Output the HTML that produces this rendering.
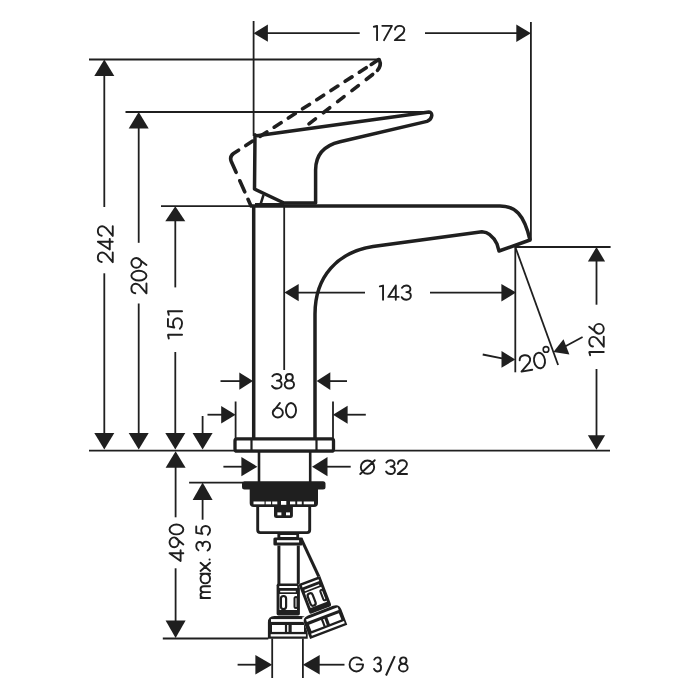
<!DOCTYPE html>
<html><head><meta charset="utf-8"><style>
html,body{margin:0;padding:0;background:#fff;width:700px;height:700px;overflow:hidden;font-family:"Liberation Sans",sans-serif}
svg{display:block}
.f{fill:#1f1f1f;stroke:none}
</style></head><body>
<svg width="700" height="700" viewBox="0 0 700 700" stroke="#1f1f1f" fill="none" stroke-linecap="butt">
<path transform="translate(389.15,33.00) scale(0.14571,0.14300) translate(-105.00,-50.00)" d="M 0 6 L 22 0 L 22 100 M 58 0 L 124 0 L 70 100 M 145 26 C 147 10 160 0 177 0 C 195 0 209 12 209 28 C 209 38 205 45 198 54 L 144 100 L 210 100" fill="none" stroke="#1f1f1f" stroke-width="1.9" vector-effect="non-scaling-stroke" stroke-linecap="round" stroke-linejoin="round"/>
<path transform="translate(105.30,244.15) rotate(-90) scale(0.14754,0.14900) translate(-122.00,-50.00)" d="M 1 26 C 3 10 16 0 33 0 C 51 0 65 12 65 28 C 65 38 61 45 54 54 L 0 100 L 66 100 M 138 100 L 138 0 L 86 80 L 158 80 M 179 26 C 181 10 194 0 211 0 C 229 0 243 12 243 28 C 243 38 239 45 232 54 L 178 100 L 244 100" fill="none" stroke="#1f1f1f" stroke-width="1.9" vector-effect="non-scaling-stroke" stroke-linecap="round" stroke-linejoin="round"/>
<path transform="translate(138.90,275.65) rotate(-90) scale(0.14874,0.15100) translate(-119.00,-50.00)" d="M 1 26 C 3 10 16 0 33 0 C 51 0 65 12 65 28 C 65 38 61 45 54 54 L 0 100 L 66 100 M 119 0 C 137.2 0 152 22.4 152 50 C 152 77.6 137.2 100 119 100 C 100.8 100 86 77.6 86 50 C 86 22.4 100.8 0 119 0 Z M 191 100 L 229 50 C 235 43 238 37 238 33 C 238 15 223.2 0 205 0 C 186.8 0 172 15 172 33 C 172 51 186.8 66 205 66 C 223.2 66 238 51 238 33" fill="none" stroke="#1f1f1f" stroke-width="1.9" vector-effect="non-scaling-stroke" stroke-linecap="round" stroke-linejoin="round"/>
<path transform="translate(175.00,324.85) rotate(-90) scale(0.16585,0.14100) translate(-82.00,-50.00)" d="M 0 6 L 22 0 L 22 100 M 118 0 L 73 0 L 66 45 C 73 39 82 36 91 36 C 109 36 122 50 122 68 C 122 86 109 100 91 100 C 77 100 66 94 59 84 M 142 6 L 164 0 L 164 100" fill="none" stroke="#1f1f1f" stroke-width="1.9" vector-effect="non-scaling-stroke" stroke-linecap="round" stroke-linejoin="round"/>
<path transform="translate(176.45,542.80) rotate(-90) scale(0.14959,0.13800) translate(-122.00,-50.00)" d="M 52 100 L 52 0 L 0 80 L 72 80 M 111 100 L 149 50 C 155 43 158 37 158 33 C 158 15 143.2 0 125 0 C 106.8 0 92 15 92 33 C 92 51 106.8 66 125 66 C 143.2 66 158 51 158 33 M 211 0 C 229.2 0 244 22.4 244 50 C 244 77.6 229.2 100 211 100 C 192.8 100 178 77.6 178 50 C 178 22.4 192.8 0 211 0 Z" fill="none" stroke="#1f1f1f" stroke-width="1.9" vector-effect="non-scaling-stroke" stroke-linecap="round" stroke-linejoin="round"/>
<path transform="translate(203.15,562.00) rotate(-90) scale(0.14110,0.13800) translate(-255.50,-50.00)" d="M 0 31 L 0 100 M 0 55 C 0 40 8 31 21 31 C 34 31 42 40 42 55 L 42 100 M 42 55 C 42 40 50 31 63 31 C 76 31 84 40 84 55 L 84 100 M 172 31 L 172 100 M 172 65.5 C 172 84.6 156.8 100 138 100 C 119.2 100 104 84.6 104 65.5 C 104 46.4 119.2 31 138 31 C 156.8 31 172 46.4 172 65.5 M 192 31 L 250 100 M 250 31 L 192 100 M 273 96 L 273 97 M 339 16 C 345 6 355 0 368 0 C 385 0 397 11 397 24 C 397 37 386 46 369 46 C 388 46 400 57 400 72 C 400 88 387 100 369 100 C 355 100 343 93 337 82 M 507 0 L 462 0 L 455 45 C 462 39 471 36 480 36 C 498 36 511 50 511 68 C 511 86 498 100 480 100 C 466 100 455 94 448 84" fill="none" stroke="#1f1f1f" stroke-width="1.9" vector-effect="non-scaling-stroke" stroke-linecap="round" stroke-linejoin="round"/>
<path transform="translate(283.00,381.25) scale(0.15137,0.14600) translate(-73.00,-50.00)" d="M 3 16 C 9 6 19 0 32 0 C 49 0 61 11 61 24 C 61 37 50 46 33 46 C 52 46 64 57 64 72 C 64 88 51 100 33 100 C 19 100 7 93 1 82 M 115 0 C 128 0 138 10 138 23 C 138 36 128 46 115 46 C 102 46 92 36 92 23 C 92 10 102 0 115 0 Z M 115 46 C 132 46 146 58 146 73 C 146 88 132 100 115 100 C 98 100 84 88 84 73 C 84 58 98 46 115 46 Z" fill="none" stroke="#1f1f1f" stroke-width="1.9" vector-effect="non-scaling-stroke" stroke-linecap="round" stroke-linejoin="round"/>
<path transform="translate(284.40,410.25) scale(0.15329,0.14600) translate(-76.00,-50.00)" d="M 47 0 L 9 50 C 3 57 0 63 0 67 C 0 85 14.8 100 33 100 C 51.2 100 66 85 66 67 C 66 49 51.2 34 33 34 C 14.8 34 0 49 0 67 M 119 0 C 137.2 0 152 22.4 152 50 C 152 77.6 137.2 100 119 100 C 100.8 100 86 77.6 86 50 C 86 22.4 100.8 0 119 0 Z" fill="none" stroke="#1f1f1f" stroke-width="1.9" vector-effect="non-scaling-stroke" stroke-linecap="round" stroke-linejoin="round"/>
<path transform="translate(367.50,467.15) scale(0.14500,0.13800) translate(-50.00,-50.00)" d="M 50 2 C 76 2 96 23.5 96 50 C 96 76.5 76 98 50 98 C 24 98 4 76.5 4 50 C 4 23.5 24 2 50 2 Z M 0 100 L 100 0" fill="none" stroke="#1f1f1f" stroke-width="1.9" vector-effect="non-scaling-stroke" stroke-linecap="round" stroke-linejoin="round"/>
<path transform="translate(396.50,467.15) scale(0.14067,0.13800) translate(-75.00,-50.00)" d="M 3 16 C 9 6 19 0 32 0 C 49 0 61 11 61 24 C 61 37 50 46 33 46 C 52 46 64 57 64 72 C 64 88 51 100 33 100 C 19 100 7 93 1 82 M 85 26 C 87 10 100 0 117 0 C 135 0 149 12 149 28 C 149 38 145 45 138 54 L 84 100 L 150 100" fill="none" stroke="#1f1f1f" stroke-width="1.9" vector-effect="non-scaling-stroke" stroke-linecap="round" stroke-linejoin="round"/>
<path transform="translate(395.35,292.65) scale(0.14486,0.14200) translate(-107.00,-50.00)" d="M 0 6 L 22 0 L 22 100 M 110 100 L 110 0 L 58 80 L 130 80 M 153 16 C 159 6 169 0 182 0 C 199 0 211 11 211 24 C 211 37 200 46 183 46 C 202 46 214 57 214 72 C 214 88 201 100 183 100 C 169 100 157 93 151 82" fill="none" stroke="#1f1f1f" stroke-width="1.9" vector-effect="non-scaling-stroke" stroke-linecap="round" stroke-linejoin="round"/>
<path transform="translate(596.50,339.60) rotate(-90) scale(0.15000,0.14500) translate(-105.00,-50.00)" d="M 0 6 L 22 0 L 22 100 M 59 26 C 61 10 74 0 91 0 C 109 0 123 12 123 28 C 123 38 119 45 112 54 L 58 100 L 124 100 M 191 0 L 153 50 C 147 57 144 63 144 67 C 144 85 158.8 100 177 100 C 195.2 100 210 85 210 67 C 210 49 195.2 34 177 34 C 158.8 34 144 49 144 67" fill="none" stroke="#1f1f1f" stroke-width="1.9" vector-effect="non-scaling-stroke" stroke-linecap="round" stroke-linejoin="round"/>
<path transform="translate(532.50,361.75) rotate(-10) scale(0.16513,0.15600) translate(-76.00,-50.00)" d="M 1 26 C 3 10 16 0 33 0 C 51 0 65 12 65 28 C 65 38 61 45 54 54 L 0 100 L 66 100 M 119 0 C 137.2 0 152 22.4 152 50 C 152 77.6 137.2 100 119 100 C 100.8 100 86 77.6 86 50 C 86 22.4 100.8 0 119 0 Z" fill="none" stroke="#1f1f1f" stroke-width="1.9" vector-effect="non-scaling-stroke" stroke-linecap="round" stroke-linejoin="round"/>
<path transform="translate(356.30,664.40) scale(0.13776,0.14100) translate(-49.00,-50.00)" d="M 88 20 C 79 8 65 0 50 0 C 22.4 0 0 22.4 0 50 C 0 77.6 22.4 100 50 100 C 77.6 100 98 77.6 98 52 L 98 50 L 52 50" fill="none" stroke="#1f1f1f" stroke-width="1.9" vector-effect="non-scaling-stroke" stroke-linecap="round" stroke-linejoin="round"/>
<path transform="translate(377.50,664.40) scale(0.11094,0.14100) translate(-32.00,-50.00)" d="M 3 16 C 9 6 19 0 32 0 C 49 0 61 11 61 24 C 61 37 50 46 33 46 C 52 46 64 57 64 72 C 64 88 51 100 33 100 C 19 100 7 93 1 82" fill="none" stroke="#1f1f1f" stroke-width="1.9" vector-effect="non-scaling-stroke" stroke-linecap="round" stroke-linejoin="round"/>
<path transform="translate(403.30,664.40) scale(0.14032,0.14100) translate(-31.00,-50.00)" d="M 31 0 C 44 0 54 10 54 23 C 54 36 44 46 31 46 C 18 46 8 36 8 23 C 8 10 18 0 31 0 Z M 31 46 C 48 46 62 58 62 73 C 62 88 48 100 31 100 C 14 100 0 88 0 73 C 0 58 14 46 31 46 Z" fill="none" stroke="#1f1f1f" stroke-width="1.9" vector-effect="non-scaling-stroke" stroke-linecap="round" stroke-linejoin="round"/>
<line x1="253.6" y1="21" x2="253.6" y2="136" stroke-width="1.8"/>
<line x1="530.9" y1="22" x2="530.9" y2="240" stroke-width="1.8"/>
<line x1="266" y1="33.2" x2="359.7" y2="33.2" stroke-width="1.8"/>
<line x1="425" y1="33.2" x2="518" y2="33.2" stroke-width="1.8"/>
<polygon class="f" points="253.6,33.2 267.9,24.6 267.9,41.8"/>
<polygon class="f" points="530.9,33.2 516.3,42.1 516.3,24.4"/>
<line x1="89" y1="59.5" x2="379" y2="59.5" stroke-width="1.8"/>
<line x1="125.5" y1="112" x2="430" y2="112" stroke-width="1.8"/>
<line x1="161" y1="206.2" x2="254" y2="206.2" stroke-width="1.8"/>
<line x1="89" y1="450.6" x2="610" y2="450.6" stroke-width="1.8"/>
<line x1="104.3" y1="74" x2="104.3" y2="207" stroke-width="1.8"/>
<line x1="104.3" y1="273.3" x2="104.3" y2="434" stroke-width="1.8"/>
<polygon class="f" points="104.3,59.5 114.3,76.0 94.3,76.0"/>
<polygon class="f" points="104.3,449.5 94.3,433.0 114.3,433.0"/>
<line x1="138.7" y1="127" x2="138.7" y2="242.8" stroke-width="1.8"/>
<line x1="138.7" y1="303.5" x2="138.7" y2="434" stroke-width="1.8"/>
<polygon class="f" points="138.7,112.0 148.7,128.5 128.7,128.5"/>
<polygon class="f" points="138.7,449.5 128.7,433.0 148.7,433.0"/>
<line x1="175.3" y1="220" x2="175.3" y2="287.4" stroke-width="1.8"/>
<line x1="175.3" y1="352" x2="175.3" y2="434" stroke-width="1.8"/>
<polygon class="f" points="175.3,206.2 185.3,221.2 165.3,221.2"/>
<polygon class="f" points="175.3,449.5 165.3,433.0 185.3,433.0"/>
<line x1="202.6" y1="416" x2="202.6" y2="434" stroke-width="1.8"/>
<polygon class="f" points="202.6,449.5 192.6,433.0 212.6,433.0"/>
<line x1="175.6" y1="466" x2="175.6" y2="517.3" stroke-width="1.8"/>
<line x1="175.6" y1="568.3" x2="175.6" y2="622" stroke-width="1.8"/>
<polygon class="f" points="175.6,451.2 185.6,467.7 165.6,467.7"/>
<polygon class="f" points="175.6,638.0 165.6,620.4 185.6,620.4"/>
<line x1="162.8" y1="638.5" x2="268.3" y2="638.5" stroke-width="1.8"/>
<line x1="189.1" y1="482.6" x2="243" y2="482.6" stroke-width="1.8"/>
<line x1="202.6" y1="498" x2="202.6" y2="519.7" stroke-width="1.8"/>
<polygon class="f" points="202.6,482.6 212.6,500.0 192.6,500.0"/>
<line x1="220.5" y1="381.1" x2="240" y2="381.1" stroke-width="1.8"/>
<polygon class="f" points="253.0,381.1 239.3,389.8 239.3,372.4"/>
<line x1="329" y1="381.1" x2="347" y2="381.1" stroke-width="1.8"/>
<polygon class="f" points="316.6,381.1 330.3,372.3 330.3,389.9"/>
<line x1="235.6" y1="401.5" x2="235.6" y2="439" stroke-width="1.8"/>
<line x1="333" y1="401.5" x2="333" y2="439" stroke-width="1.8"/>
<line x1="207.5" y1="414.7" x2="222" y2="414.7" stroke-width="1.8"/>
<polygon class="f" points="235.6,414.7 221.2,423.4 221.2,406.0"/>
<line x1="345" y1="414.7" x2="365.8" y2="414.7" stroke-width="1.8"/>
<polygon class="f" points="333.0,414.7 347.6,405.7 347.6,423.7"/>
<line x1="284.2" y1="206" x2="284.2" y2="370" stroke-width="1.8"/>
<line x1="223.4" y1="466.7" x2="243" y2="466.7" stroke-width="1.8"/>
<polygon class="f" points="257.4,466.7 241.4,476.3 241.4,457.1"/>
<line x1="326" y1="466.7" x2="350.7" y2="466.7" stroke-width="1.8"/>
<polygon class="f" points="312.0,466.7 327.5,457.1 327.5,476.3"/>
<line x1="297" y1="292.6" x2="365" y2="292.6" stroke-width="1.8"/>
<line x1="430" y1="292.6" x2="502" y2="292.6" stroke-width="1.8"/>
<polygon class="f" points="284.4,292.6 298.7,284.0 298.7,301.2"/>
<polygon class="f" points="516.0,292.6 501.4,301.4 501.4,283.9"/>
<line x1="515.3" y1="247" x2="515.3" y2="372.3" stroke-width="1.8"/>
<line x1="515.3" y1="247" x2="610.6" y2="247" stroke-width="1.8"/>
<line x1="596.5" y1="260" x2="596.5" y2="304.7" stroke-width="1.8"/>
<line x1="596.5" y1="369" x2="596.5" y2="436" stroke-width="1.8"/>
<polygon class="f" points="596.5,247.0 605.1,261.5 587.9,261.5"/>
<polygon class="f" points="596.5,449.8 587.9,435.3 605.1,435.3"/>
<line x1="515.3" y1="247" x2="558.1" y2="365" stroke-width="1.8"/>
<line x1="482.7" y1="354.5" x2="502" y2="358.4" stroke-width="1.8"/>
<polygon class="f" points="515.3,359.4 501.5,367.8 501.5,351.0"/>
<line x1="582.6" y1="337" x2="565" y2="346.5" stroke-width="1.8"/>
<polygon class="f" points="553.4,352.0 563.5,339.3 569.4,354.6"/>
<circle cx="546" cy="349.4" r="2.8" fill="none" stroke-width="1.6"/>
<line x1="272.2" y1="638.5" x2="272.2" y2="678" stroke-width="1.8"/>
<line x1="302.9" y1="638.5" x2="302.9" y2="678" stroke-width="1.8"/>
<line x1="237.6" y1="664.7" x2="257" y2="664.7" stroke-width="1.8"/>
<polygon class="f" points="272.2,664.7 255.4,674.4 255.4,655.0"/>
<line x1="319" y1="664.7" x2="344.5" y2="664.7" stroke-width="1.8"/>
<polygon class="f" points="302.9,664.7 319.7,655.0 319.7,674.4"/>
<line x1="386" y1="675.5" x2="394.8" y2="656.2" stroke-width="2.0"/>
<g stroke-width="3.5" fill="none" stroke-linejoin="round">
<path d="M253.7,206 L253.7,439"/>
<path d="M315,439 L315,314 C315,276 338,252 373,246.5 L482,231.8 C490,232 494,238 497,244 L499,251 L530,240 C524,214 515,206 500,206 L252,206"/>
<path d="M255,134.8 L254.5,189 L284,203 L315.6,203 L315.6,170 C315.6,153 326,145 340,141.7 L427,121.4 C433,119 433,112 429,112 L255,136 Z"/>
</g>
<path d="M260.5,204.5 L263.5,195" stroke-width="2.5"/>
<line x1="255" y1="204.3" x2="284" y2="204.3" stroke-width="2.6"/>
<g stroke-width="3.6" fill="none" stroke-linecap="round">
<path stroke-dasharray="0.0 1.1 8.0 6.0 8.2 8.7 8.2 8.7 8.2 8.7 8.2 8.7 8.2 8.7 8.2 8.7 8.2 8.7 8.2 8.7 8.2 8.6 26.8 9.2 12.1 8.2 9.5 57.1" d="M378.9,59.5 L233.5,153.5 Q229.3,156.5 231.3,161.5 L251,206"/>
<path stroke-dasharray="0.0 1.1 10.8 6.2 8.2 9.9 8.2 9.9 8.2 9.9 8.2 9.9 8.2 9.9 8.2 51.0" d="M378.9,59.5 Q382.5,65 376.5,71.5 L303,128.5"/>
</g>
<rect x="235" y="438.8" width="98.5" height="12.4" rx="2" fill="none" stroke-width="3.3"/>
<line x1="251.5" y1="439" x2="251.5" y2="451" stroke-width="2.2"/>
<line x1="316.5" y1="439" x2="316.5" y2="451" stroke-width="2.2"/>
<line x1="259" y1="451" x2="259" y2="482" stroke-width="2.6"/>
<line x1="310.2" y1="451" x2="310.2" y2="482" stroke-width="2.6"/>
<rect x="242" y="481.3" width="83.5" height="8.2" rx="2.5" class="f"/>
<path class="f" d="M249.7,488 L318,488 L318,503 Q318,507 314,507 L253.7,507 Q249.7,507 249.7,503 Z"/>
<rect x="253.5" y="501.5" width="11.0" height="2.8" fill="#fff" stroke="none"/>
<rect x="265.7" y="501.5" width="5.3" height="2.8" fill="#fff" stroke="none"/>
<rect x="272.2" y="501.5" width="5.1" height="2.8" fill="#fff" stroke="none"/>
<rect x="290" y="501.5" width="5.3" height="2.8" fill="#fff" stroke="none"/>
<rect x="297.2" y="501.5" width="4.6" height="2.8" fill="#fff" stroke="none"/>
<rect x="303.7" y="501.5" width="10.3" height="2.8" fill="#fff" stroke="none"/>
<rect x="281" y="501" width="5.3" height="3.8" fill="#fff" stroke="none"/>
<path d="M257.7,505 L257.7,530 Q257.7,532.6 260.3,532.6 L307.1,532.6 Q309.7,532.6 309.7,530 L309.7,505" fill="none" stroke-width="2.9"/>
<path class="f" d="M274,506 L292.9,506 L292.9,515.6 Q292.9,518.1 290.4,518.1 L276.5,518.1 Q274,518.1 274,515.6 Z"/>
<rect x="277.4" y="512.4" width="4" height="2.9" fill="#fff" stroke="none"/><rect x="286" y="512.4" width="4" height="2.9" fill="#fff" stroke="none"/>
<rect x="277.4" y="533.5" width="21.7" height="4.5" class="f"/>
<rect x="280.3" y="535" width="16" height="2" fill="#fff" stroke="none"/>
<rect x="273.4" y="537.6" width="29.2" height="8" rx="1.5" class="f"/>
<rect x="276.9" y="540.2" width="22.2" height="2.3" fill="#fff" stroke="none"/>
<line x1="278.9" y1="545.5" x2="278.9" y2="584" stroke-width="3.0"/>
<line x1="298.3" y1="545.5" x2="298.3" y2="584" stroke-width="3.0"/>
<line x1="300.9" y1="538.1" x2="319.7" y2="578.5" stroke-width="3.0"/>
<g transform="">
<rect x="276.6" y="583.5" width="23.3" height="32" rx="1.8" class="f"/>
<rect x="279.3" y="586" width="17.9" height="2" fill="#fff" stroke="none"/>
<rect x="280.2" y="590.8" width="15.6" height="1.5" fill="#fff" stroke="none"/>
<rect x="279.5" y="594" width="17.5" height="16" fill="#fff" stroke="none"/>
<rect x="280.9" y="596" width="5.2" height="13" rx="2.6" fill="none" stroke-width="2.2"/>
<rect x="294.5" y="597" width="3" height="11" rx="1.5" fill="none" stroke-width="2"/>
<path class="f" d="M267.9,638.8 L267.9,622.5 Q267.9,616 274.4,616 L301.2,616 Q307.7,616 307.7,622.5 L307.7,638.8 Z"/>
<rect x="271" y="619.1" width="34" height="2.8" fill="#fff" stroke="none"/>
<rect x="272" y="625" width="12.9" height="6.9" fill="#fff" stroke="none"/>
<rect x="291.7" y="625" width="12.3" height="6.9" fill="#fff" stroke="none"/>
<rect x="287.1" y="625" width="1.4" height="6.9" fill="#fff" stroke="none"/>
<rect x="270.7" y="634.2" width="35.2" height="2.3" fill="#fff" stroke="none"/>
</g>
<g transform="translate(42.2,0.2) rotate(-21 267.9 638.8)">
<path fill="#fff" stroke="none" d="M276.6,583.5 L299.9,583.5 L299.9,616 L307.7,616 L307.7,638.8 L267.9,638.8 L267.9,616 L276.6,616 Z"/>
<rect x="276.6" y="583.5" width="23.3" height="32" rx="1.8" class="f"/>
<rect x="279.3" y="586" width="17.9" height="2" fill="#fff" stroke="none"/>
<rect x="280.2" y="590.8" width="15.6" height="1.5" fill="#fff" stroke="none"/>
<rect x="279.5" y="594" width="17.5" height="16" fill="#fff" stroke="none"/>
<rect x="280.9" y="596" width="5.2" height="13" rx="2.6" fill="none" stroke-width="2.2"/>
<rect x="294.5" y="597" width="3" height="11" rx="1.5" fill="none" stroke-width="2"/>
<path class="f" d="M267.9,638.8 L267.9,622.5 Q267.9,616 274.4,616 L301.2,616 Q307.7,616 307.7,622.5 L307.7,638.8 Z"/>
<rect x="271" y="619.1" width="34" height="2.8" fill="#fff" stroke="none"/>
<rect x="272" y="625" width="12.9" height="6.9" fill="#fff" stroke="none"/>
<rect x="291.7" y="625" width="12.3" height="6.9" fill="#fff" stroke="none"/>
<rect x="287.1" y="625" width="1.4" height="6.9" fill="#fff" stroke="none"/>
<rect x="270.7" y="634.2" width="35.2" height="2.3" fill="#fff" stroke="none"/>
</g>
</svg>
</body></html>
